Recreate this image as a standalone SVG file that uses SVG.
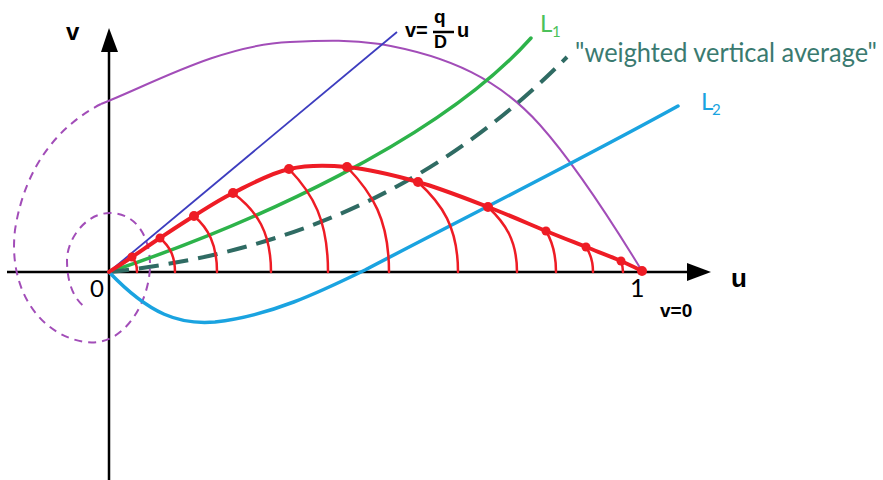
<svg xmlns="http://www.w3.org/2000/svg" width="883" height="480" viewBox="0 0 883 480">
<style>
.ax{stroke:#000;stroke-width:2.5;fill:none}
.bold{font-family:"Liberation Sans",Arial,sans-serif;font-weight:bold;fill:#000}
.cal{font-family:Lato,"Open Sans",sans-serif}
.red{stroke:#ee1c25;fill:none;stroke-linecap:round}
.arc{stroke:#ee1c25;fill:none;stroke-width:2.5;stroke-linecap:round}
.dot{fill:#ee1c25}
</style>
<rect width="883" height="480" fill="#fff"/>
<g id="axes">
<line class="ax" x1="7" y1="272" x2="692" y2="272"/>
<polygon points="687,263 711,272 687,281" fill="#000"/>
<line class="ax" x1="109" y1="480" x2="109" y2="48"/>
<polygon points="101,52 109,28 118,52" fill="#000"/>
</g>
<g id="curves">
<path id="purple-dashed" d="M101,104 C60,125 25,165 15,230 C8,290 40,335 85,342 C125,348 150,300 150,265 C150,235 135,213 110,213 C85,213 67,240 67,260 C67,285 75,300 85,307" fill="none" stroke="#a24db8" stroke-width="2" stroke-dasharray="8,6"/>
<path id="purple" d="M101,104 C150,85 220,45 290,42 C330,40 350,40 380,44 C450,56 500,80 540,125 C580,170 620,235 642,271" fill="none" stroke="#a24db8" stroke-width="2"/>
<line id="qline" x1="109" y1="272" x2="397" y2="32" stroke="#3d3dbf" stroke-width="1.8"/>
<path id="L1" d="M109,272 C250,225 440,140 531,38" fill="none" stroke="#2db34a" stroke-width="3.5" stroke-linecap="round"/>
<path id="avg" d="M109,272 C320,250 460,165 567,57" fill="none" stroke="#2f6b63" stroke-width="4" stroke-dasharray="20,10"/>
<path id="L2" d="M109,272 C150,315 180,325 215,322 C270,316 320,292 365,270 C470,215 580,160 678,106" fill="none" stroke="#1aa3e0" stroke-width="3.5" stroke-linecap="round"/>
</g>
<g id="red">
<g id="arcs">
<path class="arc" d="M132,257 C135,261 137,264 137,272"/>
<path class="arc" d="M160,238 C169,246 175,255 175,272"/>
<path class="arc" d="M194,216 C208,228 217,244 217,272"/>
<path class="arc" d="M233,193 C257,211 271,232 271,272"/>
<path class="arc" d="M289,169 C313,194 328,220 328,272"/>
<path class="arc" d="M347,167 C372,193 389,219 389,272"/>
<path class="arc" d="M418,182 C442,204 458,227 458,272"/>
<path class="arc" d="M488,207 C505,223 517,240 517,272"/>
<path class="arc" d="M546,231 C552,241 556,252 556,272"/>
<path class="arc" d="M586,247 C590,253 593,260 593,272"/>
<path class="arc" d="M621,261 C622,264 623,267 623,272"/>
</g>
<path class="red" stroke-width="4" d="M109,272 C112.8,269.5 123.5,262.7 132,257 C140.5,251.3 149.7,244.8 160,238 C170.3,231.2 181.8,223.5 194,216 C206.2,208.5 217.2,200.8 233,193 C248.8,185.2 270,173.3 289,169 C308,164.7 325.5,164.8 347,167 C368.5,169.2 394.5,175.3 418,182 C441.5,188.7 466.7,198.8 488,207 C509.3,215.2 529.7,224.3 546,231 C562.3,237.7 573.5,242 586,247 C598.5,252 611.7,257 621,261 C630.3,265 638.5,269.3 642,271"/>
<g id="dots">
<circle class="dot" cx="132" cy="257" r="4.5"/>
<circle class="dot" cx="160" cy="238" r="4.5"/>
<circle class="dot" cx="194" cy="216" r="5"/>
<circle class="dot" cx="233" cy="193" r="5"/>
<circle class="dot" cx="289" cy="169" r="5"/>
<circle class="dot" cx="347" cy="167" r="5"/>
<circle class="dot" cx="418" cy="182" r="5"/>
<circle class="dot" cx="488" cy="207" r="5"/>
<circle class="dot" cx="546" cy="231" r="4.5"/>
<circle class="dot" cx="586" cy="247" r="4.5"/>
<circle class="dot" cx="621" cy="261" r="4.5"/>
<circle class="dot" cx="642" cy="271" r="5"/>
</g>
</g>
<g id="labels">
<text class="bold" x="66" y="40" font-size="24">v</text>
<text class="bold" x="405" y="37" font-size="20">v=</text>
<text class="bold" x="434" y="23" font-size="19">q</text>
<line x1="433" y1="32" x2="454" y2="32" stroke="#000" stroke-width="2.5"/>
<text class="bold" x="434" y="48" font-size="18">D</text>
<text class="bold" x="457" y="37" font-size="20">u</text>
<text class="cal" x="540" y="32" font-size="24" fill="#4cc15a">L<tspan x="552" y="37" font-size="15">1</tspan></text>
<text class="cal" x="575" y="62" font-size="26" fill="#3a7a70" textLength="302" lengthAdjust="spacingAndGlyphs">"weighted vertical average"</text>
<text class="cal" x="701" y="110" font-size="24" fill="#1aa3e0">L<tspan x="712" y="115" font-size="15">2</tspan></text>
<text class="bold" x="731" y="287" font-size="26">u</text>
<text class="cal" x="630" y="297" font-size="25" fill="#000">1</text>
<text class="cal" x="90" y="297" font-size="24" fill="#000">0</text>
<text class="bold" x="660" y="317" font-size="19">v=0</text>
</g>
</svg>
